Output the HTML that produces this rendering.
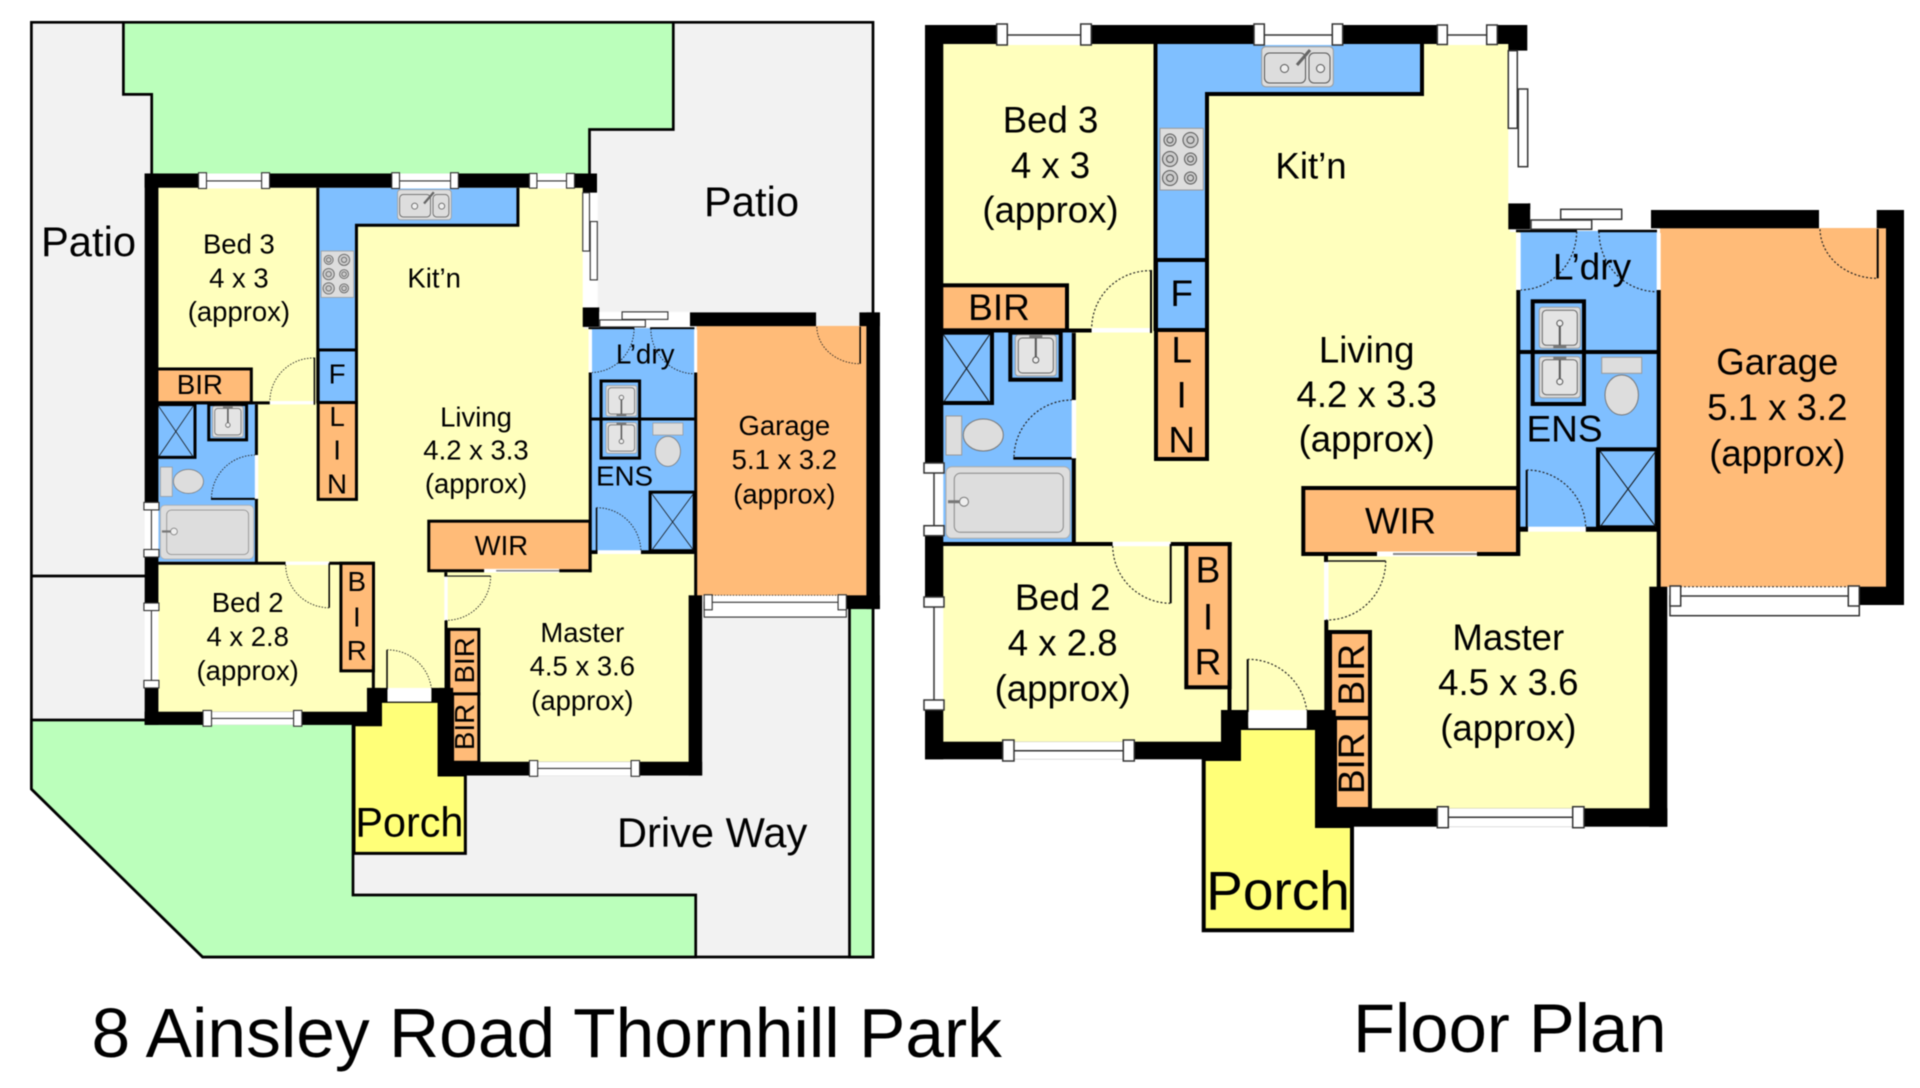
<!DOCTYPE html>
<html>
<head>
<meta charset="utf-8">
<style>
html,body{margin:0;padding:0;background:#fff;width:1920px;height:1088px;overflow:hidden}
svg{display:block;filter:blur(.45px)}
text{font-family:"Liberation Sans",sans-serif;fill:#000}
.r{font-size:36.6px;text-anchor:middle}
.s{font-size:37px}
.arc{fill:none;stroke:#222;stroke-width:1.2;stroke-dasharray:2 2}
.win{fill:#fff;stroke:#333;stroke-width:1.5}
.ln{stroke:#333;stroke-width:1.5;fill:none}
.fx{stroke:#111;stroke-width:1;fill:none}
</style>
</head>
<body>
<svg xmlns="http://www.w3.org/2000/svg" width="1920" height="1088" viewBox="0 0 1920 1088">
<defs>
<g id="bsink">
  <rect x="0" y="0" width="41" height="41" rx="3" fill="#ddd" stroke="#999" stroke-width="1"/>
  <rect x="3" y="3" width="35" height="35" rx="4" fill="#e4e4e4" stroke="#666" stroke-width="1"/>
  <path d="M20.5 3V22" stroke="#555" stroke-width="2"/>
  <circle cx="20.5" cy="25" r="3" fill="#eee" stroke="#555"/>
  <rect x="14" y="0" width="13" height="3" fill="#777"/>
</g>
<g id="plan">
  <!-- floor -->
  <polygon points="943,44 1510,44 1510,232 1520,232 1520,531 1657,531 1657,587 1651,587 1651,810 1330,810 1330,728 1228,728 1228,742 943,742" fill="#FFFFBD"/>
  <!-- porch -->
  <polygon points="1203.7,759 1203.7,930.3 1352,930.3 1352,826 1317,826 1317,728 1239,728 1239,759" fill="#FFFF78" stroke="#000" stroke-width="4"/>
  <!-- garage -->
  <rect x="1660" y="228" width="226" height="359" fill="#FFBB78"/>
  <!-- laundry / ensuite -->
  <rect x="1520" y="231" width="137" height="297" fill="#7FBFFF"/>
  <!-- bath -->
  <rect x="943" y="331" width="129" height="211" fill="#7FBFFF"/>
  <!-- kitchen -->
  <path d="M1156,44H1422V94H1207V260H1156Z" fill="#7FBFFF"/>
  <path d="M1422,44V94H1207V258" fill="none" stroke="#000" stroke-width="4"/>
  <path d="M1155.5,44V331" stroke="#000" stroke-width="4"/>
  <!-- F -->
  <rect x="1156" y="260" width="51" height="70" fill="#7FBFFF" stroke="#000" stroke-width="4"/>
  <!-- LIN -->
  <rect x="1156" y="330" width="51" height="129" fill="#FFBB78" stroke="#000" stroke-width="4"/>
  <!-- BIR top -->
  <rect x="941" y="285.3" width="126" height="45" fill="#FFBB78" stroke="#000" stroke-width="4"/>
  <path d="M943,330.5H1091.7" stroke="#000" stroke-width="4"/>
  <!-- WIR -->
  <rect x="1303.3" y="488" width="214.7" height="66" fill="#FFBB78" stroke="#000" stroke-width="4"/>
  <rect x="1377" y="551.5" width="100" height="5" fill="#fff"/>
  <path d="M1393,554H1477" stroke="#888" stroke-width="2"/>
  <path d="M1326,556V562" stroke="#000" stroke-width="4"/>
  <path d="M1326,561H1385.7" stroke="#111" stroke-width="1.5"/>
  <!-- Bed2 BIR -->
  <rect x="1186.3" y="544" width="43.4" height="143.3" fill="#FFBB78" stroke="#000" stroke-width="4"/>
  <path d="M943,544H1112.7M1170.7,544H1231.7" stroke="#000" stroke-width="4"/>
  <path d="M1229.5,680V712" stroke="#000" stroke-width="4"/>
  <!-- Master BIRs -->
  <rect x="1330" y="632" width="40" height="86" fill="#FFBB78" stroke="#000" stroke-width="4"/>
  <rect x="1335" y="718" width="35" height="91" fill="#FFBB78" stroke="#000" stroke-width="4"/>
  <path d="M1326.3,620V712" stroke="#000" stroke-width="4"/>
  <!-- living / ens wall -->
  <path d="M1518.3,290V556" stroke="#000" stroke-width="4"/>
  <path d="M1658.7,290V587" stroke="#000" stroke-width="4"/>
  <path d="M1526.7,470V531" stroke="#000" stroke-width="2"/>
  <path d="M1585.7,529.2H1657" stroke="#000" stroke-width="5"/>
  <path d="M1520,529.2H1528" stroke="#000" stroke-width="5"/>
  <path d="M1516,231H1577M1598,231H1657" stroke="#000" stroke-width="2.5"/>
  <path d="M1520,352H1657" stroke="#000" stroke-width="4"/>
  <!-- sink enclosure laundry -->
  <rect x="1532.7" y="301.3" width="51.3" height="102.7" fill="none" stroke="#000" stroke-width="4"/>
  <use href="#bsink" transform="translate(1539.3 348.3) scale(1 -1)"/>
  <use href="#bsink" transform="translate(1539.3 356.7)"/>
  <!-- ens toilet -->
  <rect x="1601.7" y="357.3" width="40" height="16" fill="#ddd" stroke="#999"/>
  <ellipse cx="1621.7" cy="395" rx="16.7" ry="20" fill="#ddd" stroke="#777"/>
  <!-- ens shower -->
  <rect x="1598" y="449.3" width="58.7" height="78" fill="#7FBFFF" stroke="#000" stroke-width="4"/>
  <path d="M1600,451L1656,527M1656,451L1600,527" class="fx"/>
  <!-- bath room -->
  <rect x="941" y="332.7" width="51" height="70.3" fill="#7FBFFF" stroke="#000" stroke-width="4"/>
  <path d="M943,334L990,403M990,334L943,403" class="fx"/>
  <rect x="1010.3" y="332.7" width="50.4" height="47" fill="none" stroke="#000" stroke-width="4"/>
  <use href="#bsink" transform="translate(1015.3 335)"/>
  <rect x="946" y="416" width="15.7" height="39" fill="#ddd" stroke="#999"/>
  <ellipse cx="983.3" cy="435" rx="20" ry="16" fill="#ddd" stroke="#777"/>
  <rect x="946" y="466.7" width="124" height="71.6" rx="6" fill="#ddd" stroke="#aaa"/>
  <rect x="954.3" y="473.3" width="109" height="59" rx="6" fill="#ddd" stroke="#888"/>
  <path d="M948,501.7H960" stroke="#777" stroke-width="3"/>
  <circle cx="964" cy="501.7" r="4.5" fill="#eee" stroke="#777"/>
  <path d="M1073.8,332.7V400M1073.8,458.3V543" stroke="#000" stroke-width="4"/>
  <path d="M1013.3,458.3H1076" stroke="#000" stroke-width="2.7"/>
  <rect x="1071.7" y="400" width="4.5" height="58.3" fill="#fff"/>
  <!-- kitchen sink -->
  <rect x="1261.7" y="46.7" width="71.6" height="40" rx="4" fill="#ddd" stroke="#999"/>
  <rect x="1264.5" y="53" width="41" height="30" rx="5" fill="#ddd" stroke="#555"/>
  <rect x="1309" y="53" width="21" height="30" rx="5" fill="#ddd" stroke="#555"/>
  <circle cx="1284.5" cy="68.5" r="4" fill="#eee" stroke="#555"/>
  <circle cx="1320.5" cy="68.5" r="4" fill="#eee" stroke="#555"/>
  <path d="M1297,65L1310,50" stroke="#666" stroke-width="3"/>
  <!-- hob -->
  <rect x="1160" y="128.3" width="43.3" height="61.7" fill="#ddd" stroke="#999"/>
  <g fill="#ccc" stroke="#555">
    <circle cx="1170" cy="140" r="6"/><circle cx="1190.5" cy="140" r="7.5"/>
    <circle cx="1170" cy="159" r="7.5"/><circle cx="1190.5" cy="159" r="6"/>
    <circle cx="1170" cy="178" r="7.5"/><circle cx="1190.5" cy="178" r="6"/>
    <circle cx="1170" cy="140" r="3"/><circle cx="1190.5" cy="140" r="3.5"/>
    <circle cx="1170" cy="159" r="3.5"/><circle cx="1190.5" cy="159" r="3"/>
    <circle cx="1170" cy="178" r="3.5"/><circle cx="1190.5" cy="178" r="3"/>
  </g>
  <!-- black walls -->
  <g fill="#000">
    <rect x="925" y="25" width="18.3" height="438"/>
    <rect x="925" y="25" width="583" height="19"/>
    <polygon points="1497,25 1527.3,25 1527.3,50.7 1508.3,50.7 1508.3,44 1497,44"/>
    <rect x="925" y="536" width="18.3" height="61"/>
    <rect x="925" y="710" width="18.3" height="49.3"/>
    <rect x="925" y="741.7" width="314" height="17.6"/>
    <rect x="1221" y="710" width="27.3" height="18.3"/>
    <rect x="1221" y="710" width="18" height="49.3"/>
    <rect x="1306.7" y="710" width="29" height="18.3"/>
    <rect x="1317.3" y="710" width="18.4" height="116.7"/>
    <rect x="1317.3" y="808.3" width="350" height="18.4"/>
    <rect x="1649.3" y="586.7" width="18" height="240"/>
    <rect x="1508.3" y="203.3" width="22" height="26"/>
    <rect x="1651" y="210" width="168" height="18.3"/>
    <rect x="1876.7" y="210" width="27.3" height="18.3"/>
    <rect x="1886" y="210" width="18" height="395"/>
    <rect x="1858.3" y="586.7" width="45.7" height="18.3"/>
  </g>
  <!-- openings in white -->
  <g fill="#fff">
    <rect x="1007.3" y="25" width="73.4" height="20"/>
    <rect x="1264.3" y="25" width="68" height="20"/>
    <rect x="1447.3" y="25" width="39.4" height="20"/>
    <rect x="925" y="473" width="18.3" height="52.7"/>
    <rect x="925" y="607" width="18.3" height="93"/>
    <rect x="1014" y="741.7" width="109.3" height="17.6"/>
    <rect x="1448.3" y="808.3" width="124.4" height="18.4"/>
    <rect x="1508.3" y="50.7" width="20" height="152.6"/>
    <rect x="1530.3" y="209.3" width="120.7" height="20"/>
    <rect x="1248.3" y="710" width="58.4" height="18.3"/>
    <rect x="1516" y="233" width="4.7" height="57"/>
    <rect x="1656.7" y="233" width="4" height="57"/>
    <rect x="1091.7" y="328" width="59" height="4.5"/>
    <rect x="1112.7" y="541.7" width="58" height="4.5"/>
    <rect x="1324" y="562" width="4.5" height="58"/>
    <rect x="1528.3" y="526.7" width="57.4" height="5"/>
    <rect x="1680" y="586.7" width="168" height="29"/>
  </g>
  <!-- window lines and jambs -->
  <path class="ln" d="M1007,35H1081M1264,35H1332M1447,35H1487M934,473V526M934,607V700M1014,750.7H1123M1448,817.3H1573"/>
  <g class="win">
    <rect x="996.7" y="24" width="10.6" height="21"/><rect x="1080.7" y="24" width="10.6" height="21"/>
    <rect x="1254" y="24" width="10.3" height="21"/><rect x="1332.3" y="24" width="10.4" height="21"/>
    <rect x="1437.3" y="25" width="10" height="19.5"/><rect x="1486.7" y="25" width="10.6" height="19.5"/>
    <rect x="924" y="463" width="20" height="10"/><rect x="924" y="525.7" width="20" height="10"/>
    <rect x="924" y="597" width="20" height="10"/><rect x="924" y="700" width="20" height="10"/>
    <rect x="1002.7" y="740" width="11.3" height="21"/><rect x="1123.3" y="740" width="11" height="21"/>
    <rect x="1437.3" y="806.7" width="11" height="21"/><rect x="1572.7" y="806.7" width="11.3" height="21"/>
    <rect x="1508.3" y="50.7" width="9" height="77.6"/><rect x="1518.3" y="89" width="9.4" height="77.7"/>
    <rect x="1531" y="220" width="60.7" height="9.3"/><rect x="1560.7" y="209.3" width="61" height="10"/>
    <rect x="1670" y="596" width="189.3" height="19.7"/>
    <rect x="1670" y="586" width="10.7" height="20"/><rect x="1848.3" y="586" width="11" height="20"/>
  </g>
  <path d="M1680,586.7H1848" stroke="#222" stroke-width="1" stroke-dasharray="2 2"/>
  <!-- door leaves -->
  <path d="M1151,270V333M1170.7,544V603.3M1247.7,659.3V712M1877.7,229V278.3" fill="none" stroke="#000" stroke-width="2"/>
  <!-- door arcs -->
  <path class="arc" d="M1151,270.7A58,58 0 0 0 1091.7,328.3"/>
  <path class="arc" d="M1014,456.7A58,58 0 0 1 1071.7,400"/>
  <path class="arc" d="M1112.7,546A58,58 0 0 0 1170.7,603.3"/>
  <path class="arc" d="M1247.7,659.3A59,59 0 0 1 1306.7,710"/>
  <path class="arc" d="M1385.7,561A59,59 0 0 1 1326,620"/>
  <path class="arc" d="M1526.7,470A59,59 0 0 1 1585.7,526.7"/>
  <path class="arc" d="M1576.7,231.7A57,59 0 0 1 1520.7,290"/>
  <path class="arc" d="M1599,231.7A58,60 0 0 0 1656.7,291.7"/>
  <path class="arc" d="M1820,229.3A57,50 0 0 0 1877.7,278.3"/>
</g>
</defs>

<!-- site -->
<polygon points="31.4,22.3 873,22.3 873,957 202.6,957 31.4,789" fill="#F2F2F2" stroke="#000" stroke-width="2.7"/>
<polygon points="123.4,22.3 673.3,22.3 673.3,129.5 589.5,129.5 589.5,178 151.7,178 151.7,94.4 123.4,94.4" fill="#BBFFBB" stroke="#000" stroke-width="2.7"/>
<polygon points="31.4,720 353,720 353,895 695.7,895 695.7,957 202.6,957 31.4,789" fill="#BBFFBB" stroke="#000" stroke-width="2.7"/>
<rect x="849.5" y="606" width="23.5" height="351" fill="#BBFFBB" stroke="#000" stroke-width="2.7"/>
<path d="M31,576H146" stroke="#000" stroke-width="2.7"/>

<use href="#plan" transform="translate(-550 154.7) scale(.751)"/>
<use href="#plan"/>

<!-- site labels -->
<text x="41" y="256" font-size="41.7">Patio</text>
<text x="704" y="216" font-size="41.7">Patio</text>
<text x="617" y="847" font-size="41.6">Drive Way</text>

<!-- left plan labels -->
<g transform="translate(-550.4 153.7) scale(.751)">
  <text class="r" x="1051" y="132.7">Bed 3</text><text class="r" x="1051" y="178">4 x 3</text><text class="r" x="1051" y="222.7">(approx)</text>
  <text class="r" x="1311" y="178.3">Kit’n</text>
  <text class="r" x="1366.7" y="363.3">Living</text><text class="r" x="1366.7" y="407">4.2 x 3.3</text><text class="r" x="1366.7" y="451.7">(approx)</text>
  <text class="r" x="1400.5" y="534.3">WIR</text>
  <text class="r s" x="999" y="320">BIR</text>
  <text class="r s" x="1181.7" y="306">F</text>
  <text class="r s" x="1181.7" y="362.3">L</text><text class="r s" x="1181.7" y="407.3">I</text><text class="r s" x="1181.7" y="452.7">N</text>
  <text class="r s" x="1592" y="279.3">L’dry</text>
  <text class="r s" x="1564.5" y="441.7">ENS</text>
  <text class="r" x="1777.3" y="374.3">Garage</text><text class="r" x="1777.3" y="420">5.1 x 3.2</text><text class="r" x="1777.3" y="466">(approx)</text>
  <text class="r" x="1062.7" y="610">Bed 2</text><text class="r" x="1062.7" y="655.7">4 x 2.8</text><text class="r" x="1062.7" y="701">(approx)</text>
  <text class="r s" x="1208" y="582.3">B</text><text class="r s" x="1208" y="629.3">I</text><text class="r s" x="1208" y="674.3">R</text>
  <text class="r" x="1508.3" y="650">Master</text><text class="r" x="1508.3" y="695">4.5 x 3.6</text><text class="r" x="1508.3" y="740.7">(approx)</text>
  <text class="r s" transform="translate(1364,674.7) rotate(-90)">BIR</text>
  <text class="r s" transform="translate(1364,763.3) rotate(-90)">BIR</text>
  <text class="r" x="1278" y="909.3" style="font-size:55px">Porch</text>
</g>

<!-- right plan labels -->
<text class="r" x="1050.5" y="132.7">Bed 3</text><text class="r" x="1050.5" y="178">4 x 3</text><text class="r" x="1050.5" y="222.7">(approx)</text>
<text class="r" x="1311" y="178.3">Kit’n</text>
<text class="r" x="1366.7" y="362.5">Living</text><text class="r" x="1366.7" y="407">4.2 x 3.3</text><text class="r" x="1366.7" y="451.7">(approx)</text>
<text class="r" x="1400.5" y="533.5">WIR</text>
<text class="r s" x="999" y="320">BIR</text>
<text class="r s" x="1181.7" y="306">F</text>
<text class="r s" x="1181.7" y="362.3">L</text><text class="r s" x="1181.7" y="407.3">I</text><text class="r s" x="1181.7" y="452.7">N</text>
<text class="r s" x="1592" y="279.3">L’dry</text>
<text class="r s" x="1564.5" y="441.7">ENS</text>
<text class="r" x="1777.3" y="374.3">Garage</text><text class="r" x="1777.3" y="420">5.1 x 3.2</text><text class="r" x="1777.3" y="466">(approx)</text>
<text class="r" x="1062.7" y="610">Bed 2</text><text class="r" x="1062.7" y="655.7">4 x 2.8</text><text class="r" x="1062.7" y="701">(approx)</text>
<text class="r s" x="1208" y="582.3">B</text><text class="r s" x="1208" y="629.3">I</text><text class="r s" x="1208" y="674.3">R</text>
<text class="r" x="1508.3" y="650">Master</text><text class="r" x="1508.3" y="695">4.5 x 3.6</text><text class="r" x="1508.3" y="740.7">(approx)</text>
<text class="r s" transform="translate(1364,674.7) rotate(-90)">BIR</text>
<text class="r s" transform="translate(1364,763.3) rotate(-90)">BIR</text>
<text class="r" x="1278" y="909.3" style="font-size:55px">Porch</text>

<!-- titles -->
<text x="91.5" y="1057" font-size="69.5">8 Ainsley Road Thornhill Park</text>
<text x="1353" y="1052" font-size="68.8">Floor Plan</text>
</svg>
</body>
</html>
